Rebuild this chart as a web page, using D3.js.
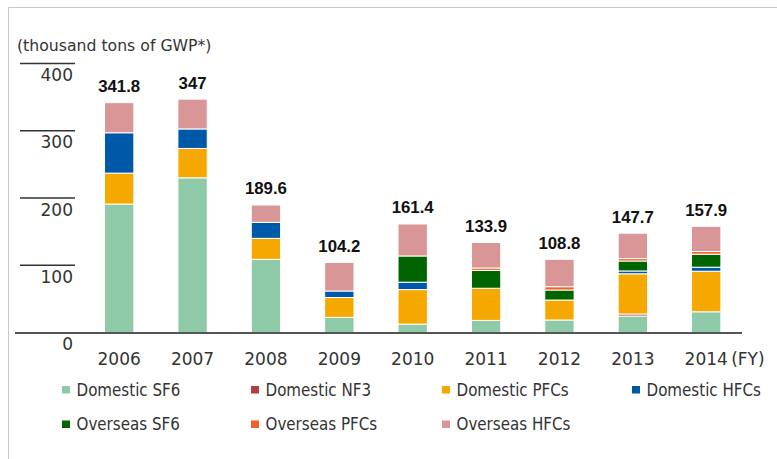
<!DOCTYPE html>
<html>
<head>
<meta charset="utf-8">
<script src="https://cdnjs.cloudflare.com/ajax/libs/d3/7.8.5/d3.min.js"></script>
<style>
  body { margin: 0; background: #fff; }
  svg { display: block; }
</style>
</head>
<body>
<div id="chart"></div>
<script>
// fiscal years
var years = ["2006", "2007", "2008", "2009", "2010", "2011", "2012", "2013", "2014"];
var totals = [341.8, 347, 189.6, 104.2, 161.4, 133.9, 108.8, 147.7, 157.9];

// series, stacked bottom to top
var domesticSF6  = [191.0, 230.0, 108.8, 22.5, 12.5, 18.0, 18.6, 24.5, 30.8];
var domesticNF3  = [0, 0, 0, 0, 0, 0, 0, 3.0, 0];
var domesticPFCs = [46.0, 43.7, 31.2, 29.5, 51.3, 47.8, 29.7, 59.8, 60.3];
var domesticHFCs = [60.0, 29.0, 23.8, 9.7, 11.0, 0, 0, 4.2, 6.0];
var overseasSF6  = [0, 0, 0, 0, 39.0, 26.6, 14.9, 14.8, 19.3];
var overseasPFCs = [0, 0, 0, 0, 0, 3.5, 4.9, 3.6, 4.0];
var overseasHFCs = [44.8, 44.3, 25.8, 42.5, 47.6, 38.0, 40.7, 37.8, 37.5];

var seriesNames = ["Domestic SF6", "Domestic NF3", "Domestic PFCs", "Domestic HFCs",
                   "Overseas SF6", "Overseas PFCs", "Overseas HFCs"];
var seriesColors = ["#8fcaa8", "#b3403e", "#f5a800", "#0058a8", "#006400", "#f0602a", "#d99696"];
var yTicks = [0, 100, 200, 300, 400];

var seriesValues = [domesticSF6, domesticNF3, domesticPFCs, domesticHFCs,
                    overseasSF6, overseasPFCs, overseasHFCs];

var rows = years.map(function(y, i) {
  var r = { year: y, total: totals[i] };
  seriesNames.forEach(function(s, k) { r[s] = seriesValues[k][i]; });
  return r;
});

var svg = d3.select("#chart").append("svg")
  .attr("width", 777).attr("height", 459);

// frame (left and top edge)
svg.append("path")
  .attr("d", "M8.5,459 V7.5 H777")
  .attr("fill", "none")
  .attr("stroke", "#c8c8c8");

var x = d3.scaleBand().domain(years)
  .range([82.5, 742.9]).paddingInner(0.6).paddingOuter(0.3);
var y = d3.scaleLinear().domain([0, 400]).range([332.5, 63.5]);

var stack = d3.stack().keys(seriesNames);
var layers = stack(rows);

var font = "DejaVu Sans, Verdana, sans-serif";
var g = svg.append("g");

// y ticks: short lines with labels under them
yTicks.forEach(function(t) {
  if (t > 0) {
    g.append("line")
      .attr("x1", 20).attr("x2", 75)
      .attr("y1", y(t)).attr("y2", y(t))
      .attr("stroke", "#333").attr("stroke-width", 1.5);
  }
  g.append("text")
    .attr("x", 73).attr("y", y(t) + 17.5)
    .attr("text-anchor", "end")
    .attr("font-family", font)
    .attr("font-size", 17)
    .attr("fill", "#333")
    .text(t);
});

svg.append("text")
  .attr("x", 17).attr("y", 51)
  .attr("font-family", font)
  .attr("font-size", 15.7)
  .attr("fill", "#333")
  .text("(thousand tons of GWP*)");

// bars
g.selectAll("g.layer")
  .data(layers)
  .enter().append("g")
  .attr("class", "layer")
  .attr("fill", function(d, i) { return seriesColors[i]; })
  .selectAll("rect")
  .data(function(d) { return d.filter(function(p) { return p[1] - p[0] > 0; }); })
  .enter().append("rect")
  .attr("x", function(d) { return x(d.data.year); })
  .attr("width", x.bandwidth())
  .attr("y", function(d) { return y(d[1]); })
  .attr("height", function(d) { return y(d[0]) - y(d[1]); })
  .attr("stroke", "#fff")
  .attr("stroke-width", 1);

// baseline
g.append("line")
  .attr("x1", 15).attr("x2", 742)
  .attr("y1", y(0) + 0.5).attr("y2", y(0) + 0.5)
  .attr("stroke", "#555").attr("stroke-width", 2);

// totals
g.selectAll("text.total")
  .data(rows)
  .enter().append("text")
  .attr("class", "total")
  .attr("x", function(d) { return x(d.year) + x.bandwidth() / 2; })
  .attr("y", function(d) { return y(d.total) - 10.5; })
  .attr("text-anchor", "middle")
  .attr("font-family", "Liberation Sans, Arial, sans-serif")
  .attr("font-weight", "bold")
  .attr("font-size", 16.8)
  .attr("fill", "#111")
  .text(function(d) { return d.total; });

// x labels
g.selectAll("text.year")
  .data(years)
  .enter().append("text")
  .attr("class", "year")
  .attr("x", function(d) { return x(d) + x.bandwidth() / 2; })
  .attr("y", 365)
  .attr("text-anchor", "middle")
  .attr("font-family", font)
  .attr("font-size", 17)
  .attr("fill", "#333")
  .text(function(d) { return d; });

g.append("text")
  .attr("x", x("2014") + x.bandwidth() / 2 + 25)
  .attr("y", 365)
  .attr("font-family", font)
  .attr("font-size", 17)
  .attr("fill", "#333")
  .text("(FY)");

// legend
var legendX = [62, 251, 442, 632];
var legend = svg.selectAll("g.legend")
  .data(seriesNames)
  .enter().append("g")
  .attr("class", "legend")
  .attr("transform", function(d, i) {
    return "translate(" + legendX[i % 4] + "," + (389.5 + Math.floor(i / 4) * 34.5) + ")";
  });
legend.append("rect")
  .attr("x", 0).attr("y", -3.5)
  .attr("width", 8).attr("height", 7.5)
  .attr("fill", function(d, i) { return seriesColors[i]; });
legend.append("text")
  .attr("x", 14.5).attr("y", 6)
  .attr("font-family", "DejaVu Sans Condensed, Tahoma, sans-serif")
  .attr("font-size", 16.8)
  .attr("fill", "#333")
  .text(function(d) { return d; });
</script>
</body>
</html>
